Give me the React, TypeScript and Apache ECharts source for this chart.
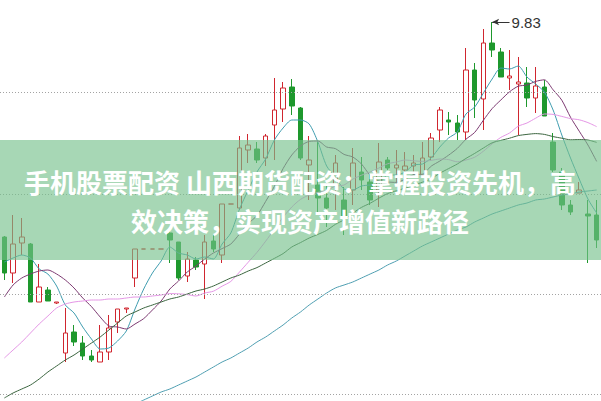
import React, { useEffect, useRef } from "react";
import * as echarts from "echarts";

// ---- data (prices) ----
const categories: string[] = Array.from({ length: 69 }, (_, i) => `D${i + 1}`);

const opens = [
  8.755, 8.575, 8.725, 8.72, 8.43, 8.49, 8.425, 8.175, 8.28, 8.225,
  8.16, 8.13, 8.18, 8.33, 8.395, 8.55, 8.695, 8.695, 8.695, 8.775,
  8.73, 8.56, 8.64, 8.62, 8.735, 8.665, 8.92, 8.9, 9.19, 9.195,
  9.15, 9.315, 9.395, 9.505, 9.4, 9.115, 9.015, 8.95, 9.015, 8.94,
  8.99, 9.08, 9.03, 8.99, 9.14, 9.1, 9.09, 9.11, 9.065, 9.155,
  9.29, 9.34, 9.325, 9.28, 9.59, 9.445, 9.725, 9.68, 9.55, 9.52,
  9.525, 9.45, 9.505, 9.23, 9.08, 8.915, 8.975, 8.87, 8.865,
];
const closes = [
  8.575, 8.72, 8.755, 8.43, 8.505, 8.435, 8.43, 8.275, 8.23, 8.16,
  8.14, 8.18, 8.3, 8.395, 8.4, 8.695, 8.695, 8.695, 8.695, 8.74,
  8.55, 8.645, 8.605, 8.73, 8.695, 8.92, 8.92, 9.2, 9.215, 9.14,
  9.26, 9.39, 9.5, 9.41, 9.15, 9.14, 8.95, 8.9, 9.125, 8.855,
  9.125, 9.04, 8.94, 9.13, 9.1, 9.115, 9.11, 9.125, 9.15, 9.25,
  9.39, 9.33, 9.28, 9.59, 9.44, 9.725, 9.69, 9.555, 9.56, 9.53,
  9.45, 9.51, 9.36, 9.09, 8.915, 8.88, 8.99, 8.86, 8.74,
];
const lows = [
  8.54, 8.525, 8.665, 8.43, 8.43, 8.435, 8.42, 8.13, 8.21, 8.14,
  8.13, 8.13, 8.14, 8.275, 8.375, 8.505, 8.695, 8.695, 8.695, 8.625,
  8.54, 8.53, 8.59, 8.445, 8.68, 8.625, 8.92, 8.89, 9.125, 9.125,
  9.11, 9.14, 9.33, 9.365, 9.14, 8.94, 8.865, 8.805, 8.89, 8.765,
  8.915, 8.99, 8.915, 8.905, 9.065, 9.015, 9.04, 9.065, 9.05, 9.14,
  9.23, 9.265, 9.24, 9.24, 9.35, 9.29, 9.655, 9.555, 9.49, 9.265,
  9.405, 9.375, 9.36, 9.08, 8.89, 8.865, 8.975, 8.625, 8.7,
];
const highs = [
  8.76, 8.865, 8.85, 8.725, 8.62, 8.505, 8.43, 8.4, 8.315, 8.26,
  8.19, 8.315, 8.365, 8.395, 8.4, 8.695, 8.695, 8.695, 8.695, 8.795,
  8.73, 8.68, 8.655, 8.765, 8.765, 8.92, 8.92, 9.26, 9.27, 9.23,
  9.27, 9.55, 9.53, 9.545, 9.405, 9.26, 9.23, 9.025, 9.165, 9.005,
  9.2, 9.155, 9.065, 9.225, 9.155, 9.19, 9.18, 9.165, 9.23, 9.275,
  9.405, 9.38, 9.365, 9.7, 9.625, 9.795, 9.83, 9.7, 9.69, 9.655,
  9.605, 9.605, 9.54, 9.275, 9.1, 8.94, 9.03, 8.94, 8.94,
];

const ma5 = [
  8.63, 8.65, 8.665, 8.65, 8.595, 8.57, 8.51, 8.415, 8.375, 8.305,
  8.245, 8.195, 8.2, 8.235, 8.285, 8.395, 8.495, 8.575, 8.635, 8.705,
  8.675, 8.665, 8.645, 8.655, 8.645, 8.72, 8.775, 8.895, 8.99, 9.08,
  9.145, 9.24, 9.3, 9.34, 9.34, 9.32, 9.23, 9.11, 9.055, 8.995,
  8.99, 9.01, 9.015, 9.02, 9.065, 9.065, 9.08, 9.115, 9.12, 9.15,
  9.205, 9.25, 9.28, 9.37, 9.405, 9.475, 9.545, 9.6, 9.595, 9.61,
  9.555, 9.52, 9.48, 9.39, 9.265, 9.15, 9.045, 8.945, 8.875,
];
const ma10 = [
  8.455, 8.515, 8.55, 8.57, 8.585, 8.59, 8.57, 8.54, 8.5, 8.45,
  8.407, 8.355, 8.31, 8.305, 8.295, 8.32, 8.347, 8.39, 8.435, 8.495,
  8.535, 8.58, 8.61, 8.645, 8.675, 8.697, 8.72, 8.77, 8.822, 8.862,
  8.933, 9.008, 9.097, 9.165, 9.21, 9.233, 9.235, 9.205, 9.197, 9.168,
  9.155, 9.12, 9.063, 9.035, 9.03, 9.028, 9.044, 9.067, 9.069, 9.109,
  9.135, 9.164, 9.198, 9.244, 9.278, 9.339, 9.397, 9.44, 9.481, 9.509,
  9.515, 9.533, 9.541, 9.491, 9.439, 9.354, 9.284, 9.215, 9.133,
];
const ma20 = [
  8.15, 8.19, 8.23, 8.275, 8.32, 8.36, 8.4, 8.42, 8.43, 8.435,
  8.44, 8.44, 8.445, 8.445, 8.45, 8.455, 8.455, 8.46, 8.465, 8.472,
  8.471, 8.467, 8.46, 8.475, 8.484, 8.509, 8.533, 8.58, 8.629, 8.678,
  8.734, 8.794, 8.854, 8.905, 8.943, 8.965, 8.978, 8.988, 9.009, 9.015,
  9.044, 9.064, 9.08, 9.1, 9.121, 9.13, 9.14, 9.136, 9.133, 9.138,
  9.145, 9.142, 9.131, 9.14, 9.154, 9.184, 9.221, 9.253, 9.275, 9.309,
  9.325, 9.349, 9.37, 9.368, 9.358, 9.347, 9.341, 9.327, 9.307,
];
const ma30 = [
  7.95, 7.975, 7.995, 8.015, 8.045, 8.08, 8.11, 8.14, 8.165, 8.195,
  8.225, 8.255, 8.29, 8.325, 8.36, 8.38, 8.4, 8.415, 8.43, 8.445,
  8.455, 8.47, 8.485, 8.495, 8.51, 8.53, 8.55, 8.565, 8.585, 8.602,
  8.625, 8.648, 8.672, 8.705, 8.727, 8.75, 8.768, 8.788, 8.818, 8.841,
  8.874, 8.903, 8.924, 8.949, 8.972, 8.986, 8.999, 9.014, 9.029, 9.046,
  9.074, 9.097, 9.12, 9.148, 9.173, 9.2, 9.226, 9.238, 9.249, 9.262,
  9.268, 9.272, 9.268, 9.257, 9.249, 9.241, 9.242, 9.24, 9.228,
];
const ma60 = [
  null, null, null, null, null, null, null, null, null, null,
  null, null, null, null, null, 7.92, 7.94, 7.96, 7.98, 7.995,
  8.015, 8.035, 8.055, 8.08, 8.105, 8.13, 8.15, 8.175, 8.2, 8.23,
  8.255, 8.285, 8.315, 8.35, 8.38, 8.415, 8.445, 8.475, 8.5, 8.515,
  8.53, 8.55, 8.57, 8.59, 8.615, 8.635, 8.66, 8.685, 8.71, 8.73,
  8.75, 8.77, 8.79, 8.805, 8.83, 8.85, 8.87, 8.885, 8.9, 8.915,
  8.925, 8.94, 8.945, 8.955, 8.965, 8.97, 8.98, 8.985, 8.99,
];

const gridPrices = [9.48, 8.975, 8.475, 7.975];

const bannerLines = [
  "手机股票配资 山西期货配资：掌握投资先机，高",
  "效决策，实现资产增值新路径",
];

const RED = "#d0262f";
const GREEN = "#1e982d";

export default function App() {
  const ref = useRef<HTMLDivElement>(null);

  useEffect(() => {
    if (!ref.current) return;
    const chart = echarts.init(ref.current, undefined, { renderer: "svg" });

    const candleData = opens.map((o, i) => [o, closes[i], lows[i], highs[i]]);
    let maxIdx = 0;
    highs.forEach((h, i) => {
      if (h > highs[maxIdx]) maxIdx = i;
    });
    const maxHigh = highs[maxIdx];

    const gridLineItems = gridPrices.map((p) => ({
      yAxis: p,
      symbol: "none",
      lineStyle: { type: [1, 2], color: "#a3a3a3", width: 1 },
      label: { show: false },
    }));

    const lineSeries = (name: string, data: (number | null)[], color: string) => ({
      name,
      type: "line",
      data,
      showSymbol: false,
      symbol: "none",
      smooth: 0.25,
      connectNulls: false,
      silent: true,
      z: 3,
      lineStyle: { color, width: 1 },
    });

    const option: any = {
      animation: false,
      backgroundColor: "#ffffff",
      grid: { left: -1, top: 0, width: 605, height: 401, containLabel: false },
      xAxis: {
        type: "category",
        data: categories,
        boundaryGap: true,
        show: false,
      },
      yAxis: {
        type: "value",
        min: 7.935,
        max: 9.94,
        show: false,
        splitLine: { show: false },
      },
      series: [
        {
          name: "K",
          type: "candlestick",
          data: candleData,
          barWidth: 5,
          silent: true,
          z: 2,
          itemStyle: {
            color: "rgba(255,255,255,0)",
            color0: GREEN,
            borderColor: RED,
            borderColor0: GREEN,
            borderWidth: 1,
          },
          markLine: {
            silent: true,
            animation: false,
            symbol: ["none", "none"],
            data: [
              ...gridLineItems,
              [
                {
                  coord: [categories[maxIdx], maxHigh],
                  symbol: "arrow",
                  symbolSize: [5, 7],
                  lineStyle: { color: "#333", width: 1, type: "solid" },
                  label: {
                    show: true,
                    position: "end",
                    formatter: maxHigh.toFixed(2),
                    color: "#333",
                    fontSize: 15,
                    fontFamily: "Liberation Sans",
                    distance: 2,
                  },
                },
                {
                  coord: [categories[maxIdx + 2], maxHigh],
                  symbol: "none",
                },
              ],
            ],
          },
        },
        lineSeries("MA5", ma5, "#3f9db0"),
        lineSeries("MA10", ma10, "#7d3a72"),
        lineSeries("MA20", ma20, "#e596e6"),
        lineSeries("MA30", ma30, "#3b653f"),
        lineSeries("MA60", ma60, "#4f9fb2"),
      ],
      graphic: [
        {
          type: "rect",
          z: 100,
          silent: true,
          shape: { x: 0, y: 140, width: 601, height: 120 },
          style: { fill: "rgba(118,192,140,0.64)" },
        },
        {
          type: "text",
          z: 101,
          silent: true,
          x: 300,
          y: 181,
          style: {
            text: bannerLines[0],
            fill: "#ffffff",
            font: 'bold 26px "Noto Sans CJK SC"',
            align: "center",
            verticalAlign: "middle",
            textAlign: "center",
            textVerticalAlign: "middle",
          },
        },
        {
          type: "text",
          z: 101,
          silent: true,
          x: 300,
          y: 220,
          style: {
            text: bannerLines[1],
            fill: "#ffffff",
            font: 'bold 26px "Noto Sans CJK SC"',
            align: "center",
            verticalAlign: "middle",
            textAlign: "center",
            textVerticalAlign: "middle",
          },
        },
      ],
    };

    chart.setOption(option);
    return () => {
      chart.dispose();
    };
  }, []);

  return (
    <div
      ref={ref}
      style={{
        position: "fixed",
        left: 0,
        top: 0,
        width: 601,
        height: 401,
        background: "#ffffff",
      }}
    />
  );
}
